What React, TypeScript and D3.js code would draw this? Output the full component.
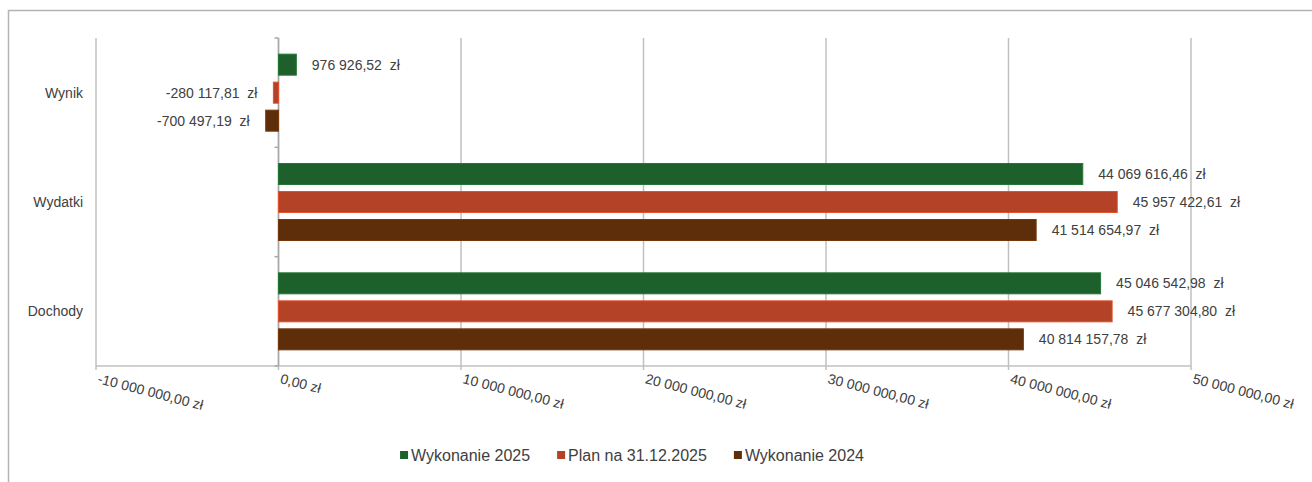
import React from "react";
import * as d3 from "d3";

const categories = ["Wynik", "Wydatki", "Dochody"];
const seriesNames = ["Wykonanie 2025", "Plan na 31.12.2025", "Wykonanie 2024"];
const seriesColors = ["#1e602c", "#b34226", "#5e2d0a"];
const wykonanie2025 = [976926.52, 44069616.46, 45046542.98];
const plan2025 = [-280117.81, 45957422.61, 45677304.8];
const wykonanie2024 = [-700497.19, 41514654.97, 40814157.78];
const xTicks = [-10000000, 0, 10000000, 20000000, 30000000, 40000000, 50000000];

const seriesValues = [wykonanie2025, plan2025, wykonanie2024];

const W = 1312;
const H = 482;
const plot = { left: 96, right: 1191, top: 38, bottom: 366 };
const textColor = "#404040";
const font = "'Liberation Sans', Arial, sans-serif";

const pl = d3.formatLocale({
  decimal: ",",
  thousands: "\u00a0",
  grouping: [3],
  currency: ["", "\u00a0zł"],
  minus: "-",
});
const fmt = pl.format(",.2f");

function measure(text: string, size: number) {
  const c = document.createElement("canvas").getContext("2d");
  if (!c) return text.length * size * 0.55;
  c.font = `${size}px 'Liberation Sans', Arial, sans-serif`;
  return c.measureText(text).width;
}

export default function App() {
  const x = d3.scaleLinear().domain([-10000000, 50000000]).range([plot.left, plot.right]);
  const y = d3.scaleBand<string>().domain(categories).range([plot.top, plot.bottom]).padding(0);
  const bw = y.bandwidth();
  const inner = d3
    .scaleBand<string>()
    .domain(seriesNames)
    .range([0, bw])
    .paddingInner(0.25)
    .paddingOuter(0.577);

  // legend layout
  const legendSize = 16;
  const sw = 8;
  const textGap = 3;
  const itemGap = 27;
  const widths = seriesNames.map((s) => sw + textGap + measure(s, legendSize));
  const total = d3.sum(widths) + itemGap * (seriesNames.length - 1);
  let lx = 632 - total / 2;
  const legendItems = seriesNames.map((s, i) => {
    const item = { name: s, x: lx, color: seriesColors[i] };
    lx += widths[i] + itemGap;
    return item;
  });
  const legendY = 455;

  const x0 = x(0);

  return (
    <svg
      width={W}
      height={H}
      style={{ position: "absolute", left: 0, top: 0, background: "#fff" }}
      fontFamily={font}
    >
      <rect x={8.5} y={10.5} width={W + 20} height={H + 20} fill="#fff" stroke="#b3b3b3" strokeWidth={1.5} />
      {/* gridlines */}
      {xTicks.map((t) => (
        <line
          key={"g" + t}
          x1={x(t)}
          x2={x(t)}
          y1={plot.top}
          y2={plot.bottom + 4}
          stroke="#c0c0c0"
          strokeWidth={1.5}
        />
      ))}
      {/* bottom axis */}
      <line x1={plot.left} x2={plot.right} y1={plot.bottom} y2={plot.bottom} stroke="#c0c0c0" strokeWidth={1.5} />
      {/* category axis */}
      <line x1={x0} x2={x0} y1={plot.top} y2={plot.bottom} stroke="#a8a8a8" strokeWidth={1.5} />
      {categories.map((c) => (
        <line key={"ct" + c} x1={x0 - 4} x2={x0} y1={y(c)!} y2={y(c)!} stroke="#a8a8a8" strokeWidth={1.5} />
      ))}
      <line x1={x0 - 4} x2={x0} y1={plot.bottom} y2={plot.bottom} stroke="#a8a8a8" strokeWidth={1.5} />
      {/* tick labels */}
      {xTicks.map((t) => (
        <text
          key={"tl" + t}
          transform={`translate(${x(t) + 1},${plot.bottom + 17}) rotate(14.5)`}
          fontSize={14}
          fill={textColor}
        >
          {fmt(t) + "\u00a0zł"}
        </text>
      ))}
      {/* category labels */}
      {categories.map((c) => (
        <text
          key={"cl" + c}
          x={83}
          y={y(c)! + bw / 2}
          textAnchor="end"
          dominantBaseline="central"
          fontSize={14}
          fill={textColor}
        >
          {c}
        </text>
      ))}
      {/* bars */}
      {categories.map((c, ci) =>
        seriesNames.map((s, si) => {
          const v = seriesValues[si][ci];
          const by = y(c)! + inner(s)!;
          const bh = inner.bandwidth();
          const xa = x(Math.min(0, v));
          const xb = x(Math.max(0, v));
          const pos = v >= 0;
          return (
            <g key={c + s}>
              <rect
                x={xa}
                y={by}
                width={xb - xa}
                height={bh}
                fill={seriesColors[si]}
                stroke={d3.color(seriesColors[si])!.brighter(0.6).toString()}
                strokeWidth={1}
              />
              <text
                x={pos ? xb + 15.5 : xa - 16}
                y={by + bh / 2}
                textAnchor={pos ? "start" : "end"}
                dominantBaseline="central"
                fontSize={14}
                fill={textColor}
              >
                {fmt(v) + "\u00a0\u00a0zł"}
              </text>
            </g>
          );
        })
      )}
      {/* legend */}
      {legendItems.map((it) => (
        <g key={"lg" + it.name}>
          <rect x={it.x} y={legendY - sw / 2} width={sw} height={sw} fill={it.color} />
          <text
            x={it.x + sw + textGap}
            y={legendY}
            dominantBaseline="central"
            fontSize={legendSize}
            fill={textColor}
          >
            {it.name}
          </text>
        </g>
      ))}
    </svg>
  );
}
